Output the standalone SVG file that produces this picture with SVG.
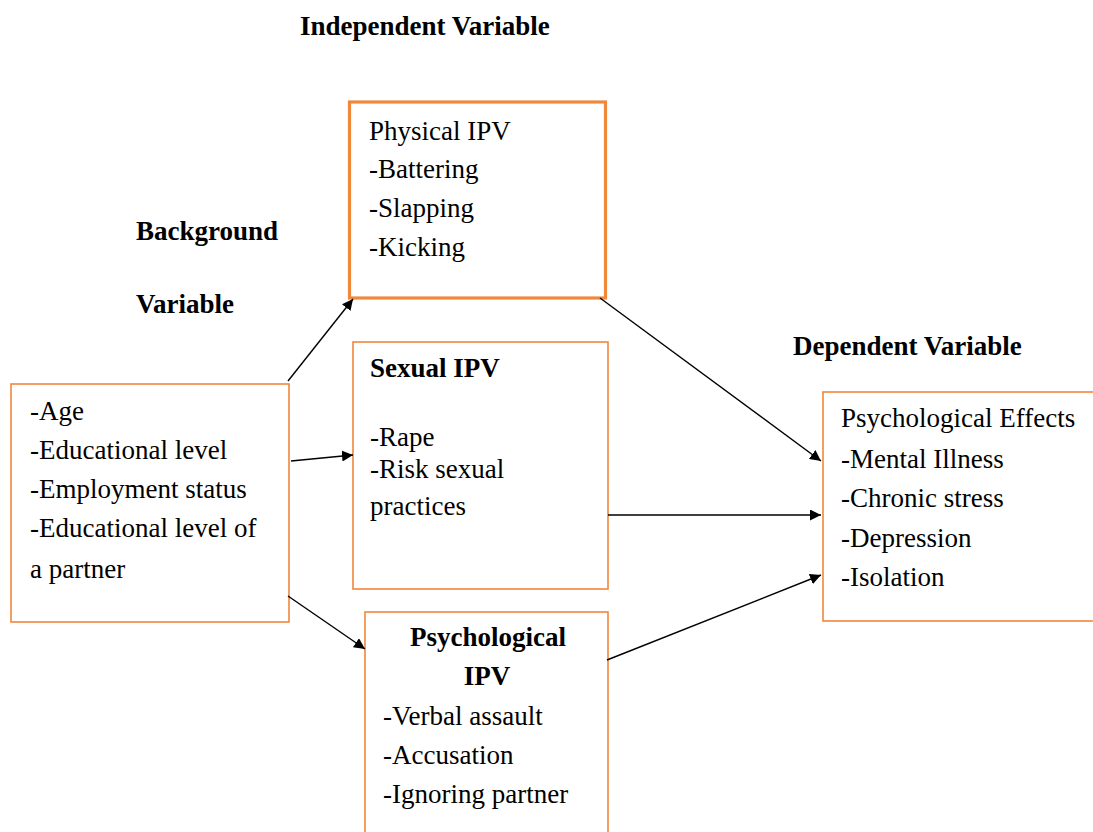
<svg xmlns="http://www.w3.org/2000/svg" width="1093" height="832" viewBox="0 0 1093 832">
<defs>
<marker id="ah" viewBox="0 0 10 10" refX="10" refY="5" markerWidth="11" markerHeight="11" markerUnits="userSpaceOnUse" orient="auto"><path d="M0,0 L10,5 L0,10 z" fill="#000"/></marker>
<style>
.box{fill:#fff;stroke:#f0883c;stroke-width:1.6}
.thick{stroke-width:3.2}
text{font-family:"Liberation Serif","Times New Roman",serif;font-size:27px;fill:#000}
.b{font-weight:bold}
.c{stroke:#000;stroke-width:1.4;fill:none;marker-end:url(#ah)}
</style>
</defs>
<rect width="1093" height="832" fill="#fff"/>
<g id="headings">
<text class="b" x="300" y="35">Independent Variable</text>
<text class="b" x="136" y="240">Background</text>
<text class="b" x="136" y="313">Variable</text>
<text class="b" x="793" y="355">Dependent Variable</text>
</g>
<g id="physical">
<rect class="box thick" x="349.5" y="102" width="256" height="196"/>
<text x="369" y="140">Physical IPV</text>
<text x="369" y="178">-Battering</text>
<text x="369" y="217">-Slapping</text>
<text x="369" y="256">-Kicking</text>
</g>
<g id="background">
<rect class="box" x="11" y="384" width="278" height="238"/>
<text x="30" y="420">-Age</text>
<text x="30" y="459">-Educational level</text>
<text x="30" y="498">-Employment status</text>
<text x="30" y="537">-Educational level of</text>
<text x="30" y="578">a partner</text>
</g>
<g id="sexual">
<rect class="box" x="353" y="342" width="255" height="247"/>
<text class="b" x="370" y="377">Sexual IPV</text>
<text x="370" y="446">-Rape</text>
<text x="370" y="478">-Risk sexual</text>
<text x="370" y="515">practices</text>
</g>
<g id="psychological">
<rect class="box" x="365" y="612" width="243" height="240"/>
<text class="b" x="488" y="646" text-anchor="middle">Psychological</text>
<text class="b" x="487" y="685" text-anchor="middle">IPV</text>
<text x="383" y="725">-Verbal assault</text>
<text x="383" y="764">-Accusation</text>
<text x="383" y="803">-Ignoring partner</text>
</g>
<g id="effects">
<rect class="box" x="823" y="392" width="290" height="229"/>
<text x="841" y="427">Psychological Effects</text>
<text x="841" y="468">-Mental Illness</text>
<text x="841" y="507">-Chronic stress</text>
<text x="841" y="547">-Depression</text>
<text x="841" y="586">-Isolation</text>
</g>
<g id="connectors">
<line class="c" x1="288" y1="381" x2="353" y2="299"/>
<line class="c" x1="291" y1="461" x2="353" y2="455"/>
<line class="c" x1="288" y1="596" x2="365" y2="649"/>
<line class="c" x1="600" y1="298" x2="821" y2="461"/>
<line class="c" x1="608" y1="515" x2="821" y2="515"/>
<line class="c" x1="607" y1="660" x2="821" y2="575"/>
</g>
</svg>
